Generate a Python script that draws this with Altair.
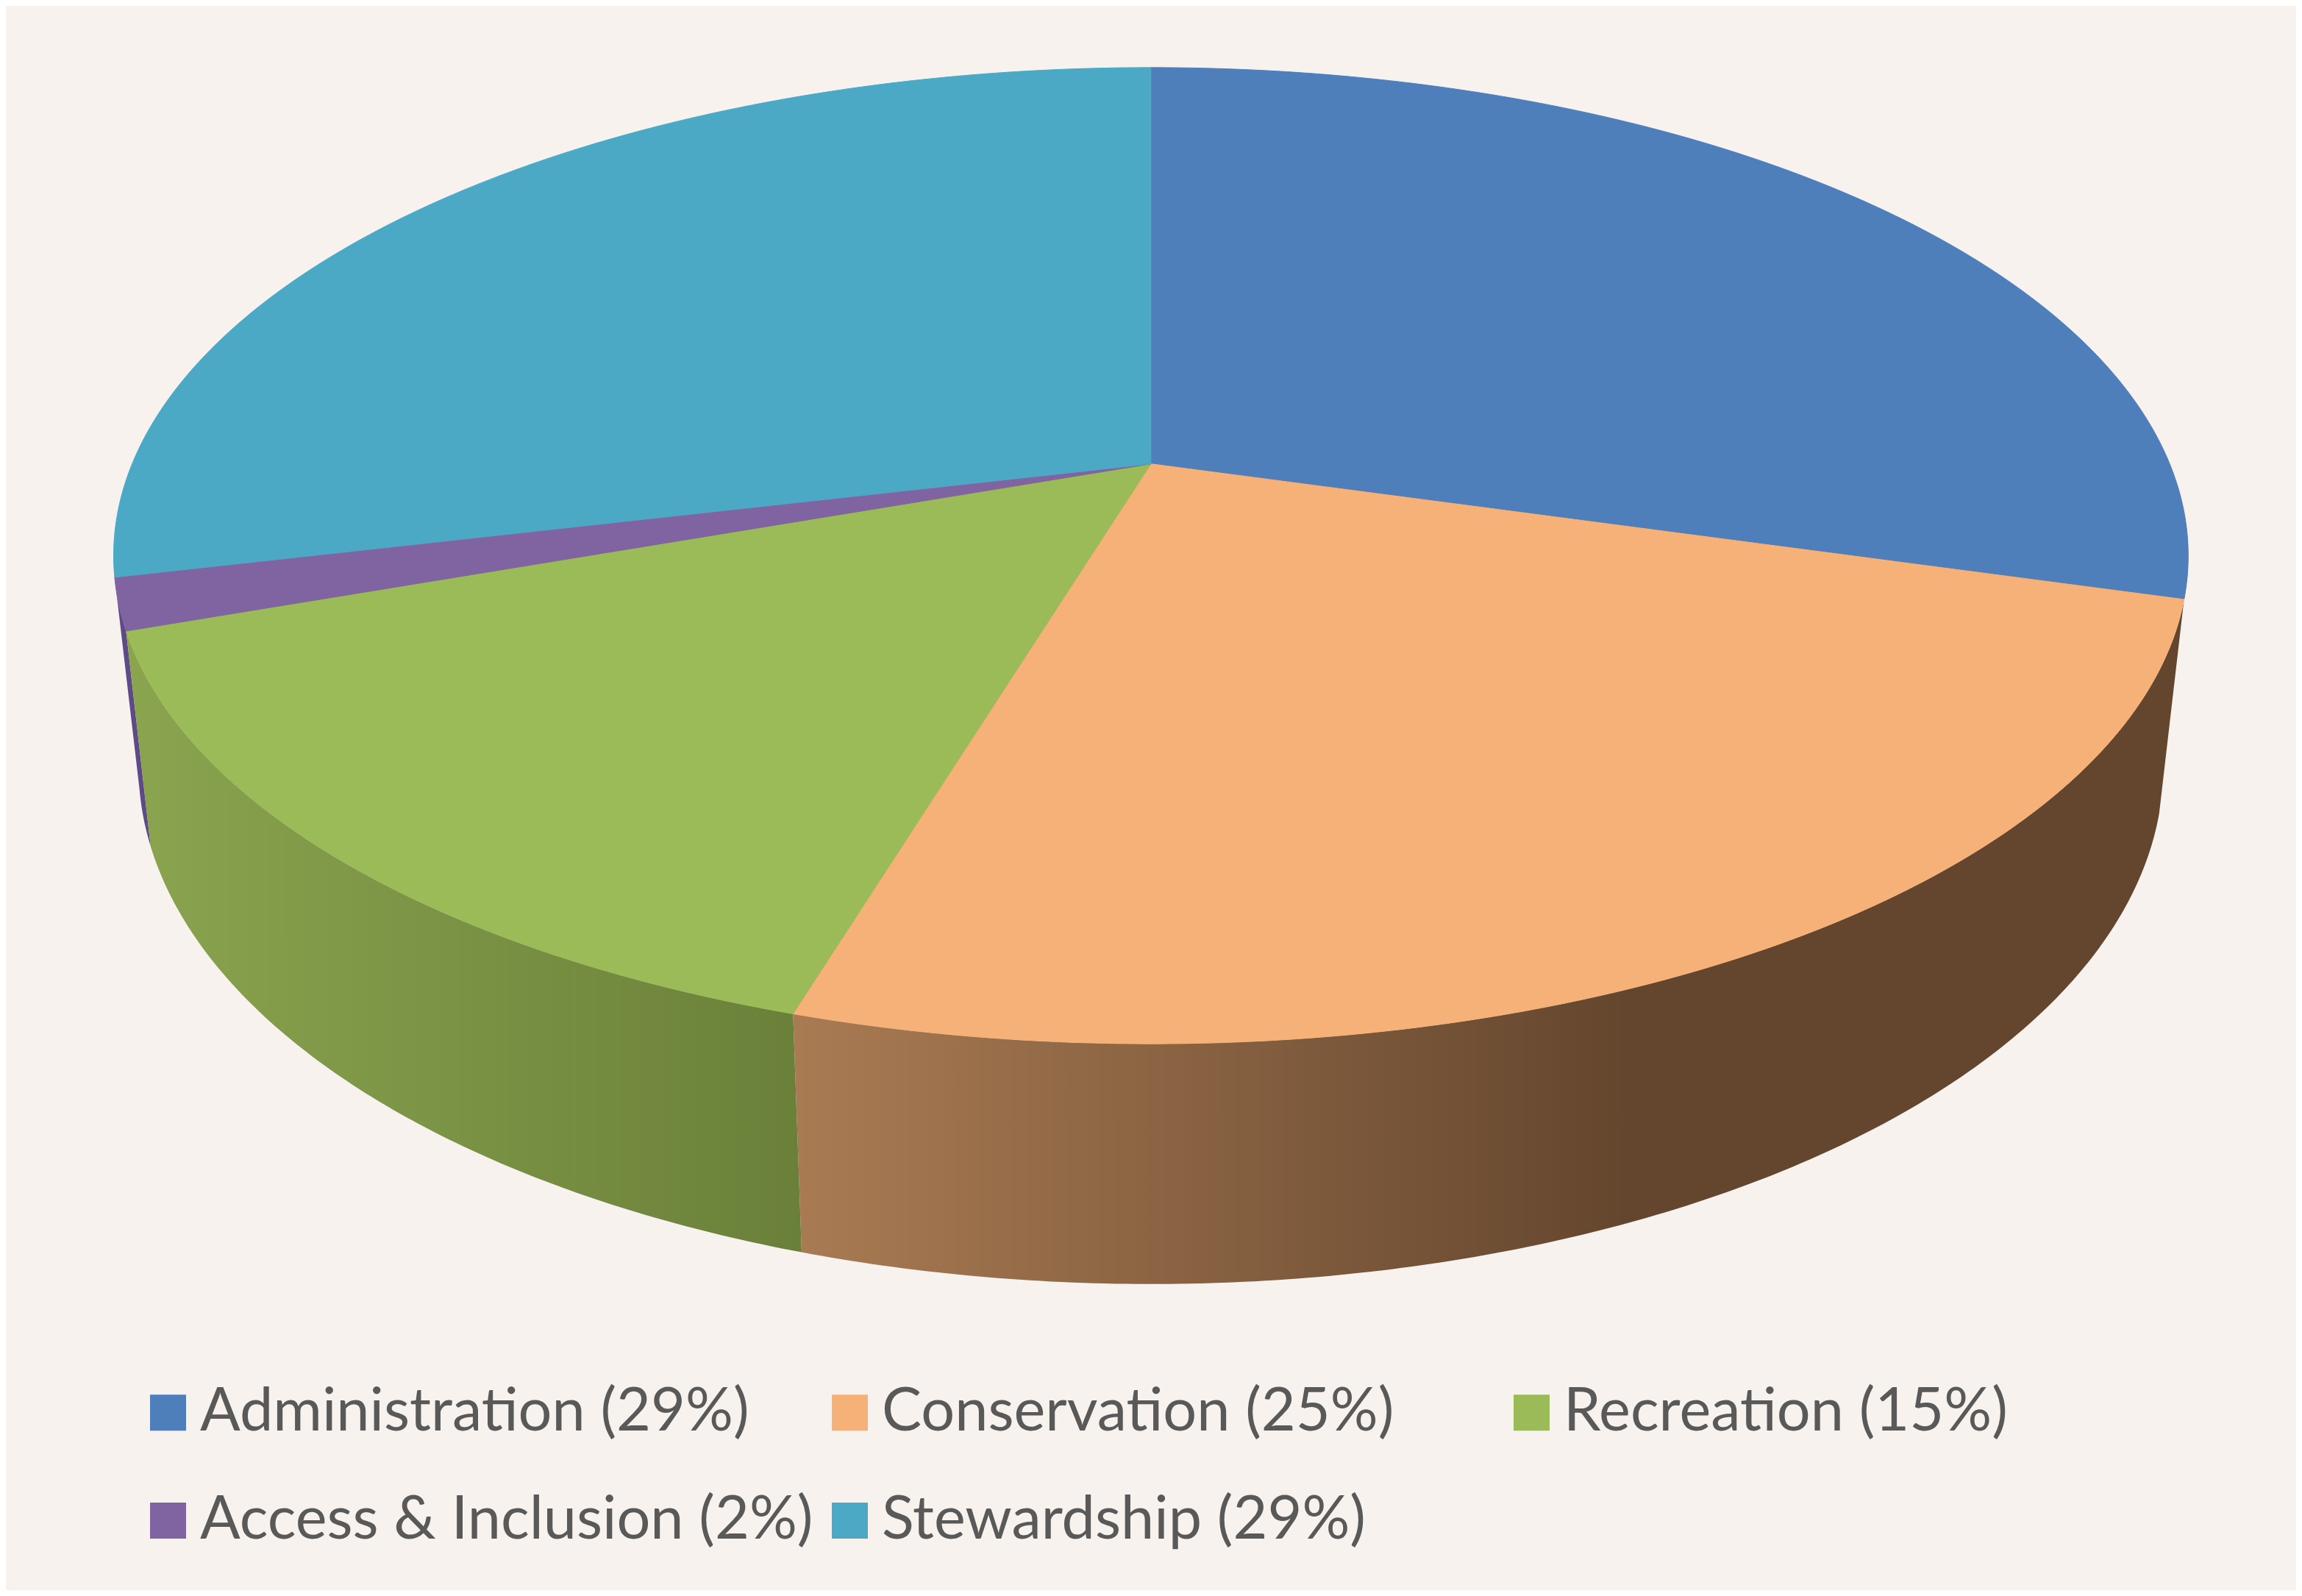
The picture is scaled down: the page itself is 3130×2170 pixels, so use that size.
import math
import altair as alt
import pandas as pd

categories = ["Administration (29%)", "Conservation (25%)", "Recreation (15%)",
              "Access & Inclusion (2%)", "Stewardship (29%)"]
shares = [29.4, 25.25, 14.95, 1.7, 28.7]
colors = ["#4E7FBA", "#F6B178", "#9BBB59", "#8064A2", "#4BA9C5"]

# perspective projection of the disc, in reference-image units
CX, APEX, PX, PA, PB, PC = 784.0, 316.0, 694.0, -261.35, 316.0, 0.188
KX, AY, BY = 0.976, 1.06, 121.0


def top(theta):
    s, c = math.sin(theta), math.cos(theta)
    d = 1 + PC * c
    return CX + PX * s / d, (PA * c + PB) / d


def bottom(theta):
    x, y = top(theta)
    return CX + (x - CX) * KX, AY * y + BY


def arc(a, b):
    n = max(2, int(abs(b - a) * 180 / math.pi * 2))
    return [a + (b - a) * i / n for i in range(n + 1)]


edges = [0.0]
for v in shares:
    edges.append(edges[-1] + v / sum(shares) * 2 * math.pi)

top_rows = []
for k, name in enumerate(categories):
    pts = [(CX, APEX)] + [top(t) for t in arc(edges[k], edges[k + 1])] + [(CX, APEX)]
    for i, (x, y) in enumerate(pts):
        top_rows.append({"slice": name, "i": i, "x": x, "y": y})
top_df = pd.DataFrame(top_rows)


def side(k):
    ts = arc(edges[k], edges[k + 1])
    pts = [top(t) for t in ts] + [bottom(t) for t in reversed(ts)]
    pts.append(pts[0])
    return pd.DataFrame([{"i": i, "x": x, "y": y} for i, (x, y) in enumerate(pts)])


X = alt.X("x:Q", axis=None, scale=alt.Scale(domain=[4.0, 1564.1], nice=False, zero=False))
Y = alt.Y("y:Q", axis=None, scale=alt.Scale(domain=[1083.2, 4.0], nice=False, zero=False))
O = alt.Order("i:Q")


def grad(c0, c1, mid):
    return alt.LinearGradient(
        gradient="linear", x1=0, x2=1, y1=0, y2=0,
        stops=[alt.GradientStop(color=c0, offset=0),
               alt.GradientStop(color=c1, offset=mid),
               alt.GradientStop(color=c1, offset=1)])


brown = alt.Chart(side(1)).mark_line(fill=grad("#A97B53", "#64462E", 0.6), strokeWidth=0).encode(x=X, y=Y, order=O)
purple = alt.Chart(side(3)).mark_line(fill="#5E4A86", strokeWidth=0).encode(x=X, y=Y, order=O)
green = alt.Chart(side(2)).mark_line(fill=grad("#8AA44F", "#6A8039", 1), strokeWidth=0).encode(x=X, y=Y, order=O)

scale = alt.Scale(domain=categories, range=colors)
faces = alt.Chart(top_df).mark_line(strokeWidth=1).encode(
    x=X, y=Y, order=O,
    stroke=alt.Stroke("slice:N", scale=scale, sort=None, legend=None),
    fill=alt.Fill("slice:N", scale=scale, sort=None, title=None, legend=alt.Legend(
        orient="none", legendX=180, legendY=1872, direction="horizontal", columns=3,
        gridAlign="all", symbolType="square", symbolSize=2401, symbolStrokeWidth=0,
        labelFont="Lato", labelFontSize=81, labelColor="#595959", labelOffset=3,
        labelLimit=1200, columnPadding=9, rowPadding=65, padding=0)),
)

chart = alt.layer(brown, purple, green, faces).properties(
    width=3114, height=2154, padding=0, background="#F7F2EE",
    autosize=alt.AutoSizeParams(type="none")
).configure_view(stroke=None)

chart.save("out.html", embed_options={"renderer": "svg", "actions": False})
